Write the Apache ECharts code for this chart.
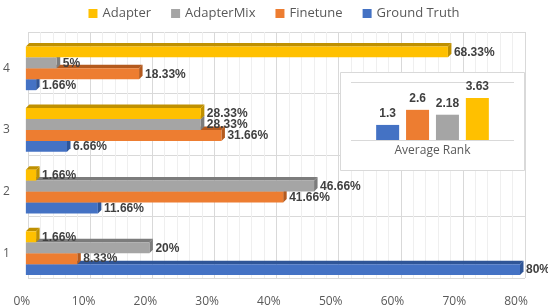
<!DOCTYPE html>
<html>
<head>
<meta charset="utf-8">
<script src="https://cdn.jsdelivr.net/npm/echarts@6/dist/echarts.min.js"></script>
<style>html,body{margin:0;padding:0;background:#fff;}#c{width:548px;height:308px;}</style>
</head>
<body>
<div id="c"></div>
<script>
// ---- data ----
const categories = ['1', '2', '3', '4'];
const groundTruth = [80, 11.66, 6.66, 1.66];
const finetune = [8.33, 41.66, 31.66, 18.33];
const adapterMix = [20, 46.66, 28.33, 5];
const adapter = [1.66, 1.66, 28.33, 68.33];
const rankCategory = ['Average Rank'];
const rankGroundTruth = [1.3];
const rankFinetune = [2.6];
const rankAdapterMix = [2.18];
const rankAdapter = [3.63];
const legendOrder = ['Adapter', 'AdapterMix', 'Finetune', 'Ground Truth'];

// ---- styles ----
const seriesDefs = [
  { name: 'Ground Truth', data: groundTruth, rank: rankGroundTruth, color: '#4472C4', dark: '#2F5597' },
  { name: 'Finetune', data: finetune, rank: rankFinetune, color: '#ED7D31', dark: '#B45A1E' },
  { name: 'AdapterMix', data: adapterMix, rank: rankAdapterMix, color: '#A5A5A5', dark: '#7C7C7C' },
  { name: 'Adapter', data: adapter, rank: rankAdapter, color: '#FFC000', dark: '#BF9000' }
];
const GAP = 0.29;
const D = 3.5;
const N = seriesDefs.length;

function makeRender(k, def) {
  return function (params, api) {
    const v = api.value(0), c = api.value(1);
    const s = api.coord([0, c]);
    const e = api.coord([v, c]);
    const band = api.size([0, 1])[1];
    const groupW = band * (1 - GAP);
    const bw = groupW / N;
    const yTop = s[1] + groupW / 2 - (k + 1) * bw;
    const x0 = s[0], x1 = e[0];
    return {
      type: 'group',
      children: [
        { type: 'polygon', shape: { points: [[x0, yTop], [x0 + D, yTop - D], [x1 + D, yTop - D], [x1, yTop]] }, style: { fill: def.dark } },
        { type: 'polygon', shape: { points: [[x1, yTop], [x1 + D, yTop - D], [x1 + D, yTop + bw - D], [x1, yTop + bw]] }, style: { fill: def.dark } },
        { type: 'rect', shape: { x: x0, y: yTop, width: x1 - x0, height: bw }, style: { fill: def.color } },
        { type: 'text', style: { text: v + '%', x: x1 + D + 2.5, y: yTop + bw / 2 + 0.5, textAlign: 'left', textVerticalAlign: 'middle',
          fill: '#404040', font: 'bold 12px "Liberation Sans", Arial, sans-serif' } }
      ]
    };
  };
}

const series = [];
seriesDefs.forEach((def, k) => {
  series.push({
    name: def.name,
    type: 'custom',
    coordinateSystem: 'cartesian2d',
    xAxisIndex: 1, yAxisIndex: 1,
    itemStyle: { color: def.color },
    encode: { x: 0, y: 1 },
    data: def.data.map((v, i) => [v, i]),
    renderItem: makeRender(k, def),
    z: 2 + k,
    silent: true
  });
});
seriesDefs.forEach((def) => {
  series.push({
    name: def.name,
    type: 'bar',
    xAxisIndex: 2, yAxisIndex: 2,
    data: def.rank,
    barWidth: 23,
    barGap: '30%',
    itemStyle: { color: def.color },
    label: { show: true, position: 'top', distance: 5, color: '#404040',
      fontFamily: '"Liberation Sans", Arial, sans-serif', fontWeight: 'bold', fontSize: 12 },
    z: 8,
    silent: true
  });
});

const axisFont = '"Open Sans", "Liberation Sans", sans-serif';
const option = {
  animation: false,
  backgroundColor: '#fff',
  legend: {
    data: legendOrder,
    top: 2, left: 'center',
    icon: 'rect', itemWidth: 9, itemHeight: 9, itemGap: 20,
    textStyle: { color: '#595959', fontSize: 13, fontFamily: axisFont }
  },
  graphic: [{
    type: 'rect', z: 5,
    shape: { x: 340.5, y: 72.5, width: 184, height: 98 },
    style: { fill: '#fff', stroke: '#d9d9d9', lineWidth: 1 }
  }],
  grid: [
    { left: 28, right: 23, top: 32, bottom: 30 },
    { left: 21, right: 28, top: 37.5, bottom: 22.5 },
    { left: 351, right: 34, top: 82, bottom: 168 }
  ],
  xAxis: [
    { type: 'value', gridIndex: 0, min: 0, max: 80, interval: 10,
      axisLabel: { show: false }, axisLine: { show: false }, axisTick: { show: false },
      splitLine: { show: true, lineStyle: { color: '#d9d9d9' } },
      minorTick: { show: false, splitNumber: 5 },
      minorSplitLine: { show: true, lineStyle: { color: '#efefef' } } },
    { type: 'value', gridIndex: 1, min: 0, max: 80, interval: 10,
      axisLine: { show: false }, axisTick: { show: false }, splitLine: { show: false },
      axisLabel: { formatter: '{value}%', color: '#595959', fontSize: 12, fontFamily: axisFont, margin: 12, padding: [0, 8, 0, 0] } },
    { type: 'category', gridIndex: 2, data: rankCategory, z: 6,
      axisLine: { show: false }, axisTick: { show: false },
      axisLabel: { color: '#595959', fontSize: 12, fontFamily: axisFont, margin: 5 } }
  ],
  yAxis: [
    { type: 'category', gridIndex: 0, data: categories,
      axisLabel: { show: false }, axisLine: { show: false }, axisTick: { show: false },
      splitLine: { show: true, lineStyle: { color: '#d9d9d9' } } },
    { type: 'category', gridIndex: 1, data: categories,
      axisLine: { show: false }, axisTick: { show: false }, splitLine: { show: false },
      axisLabel: { color: '#595959', fontSize: 12, fontFamily: axisFont, margin: 16, padding: [6, 0, 0, 0] } },
    { type: 'value', gridIndex: 2, min: 0, max: 5, interval: 5, z: 6,
      axisLabel: { show: false }, axisLine: { show: false }, axisTick: { show: false },
      splitLine: { show: true, lineStyle: { color: '#d9d9d9' } } }
  ],
  series: series
};
const chart = echarts.init(document.getElementById('c'), null, { renderer: 'canvas' });
chart.setOption(option);
</script>
</body>
</html>
